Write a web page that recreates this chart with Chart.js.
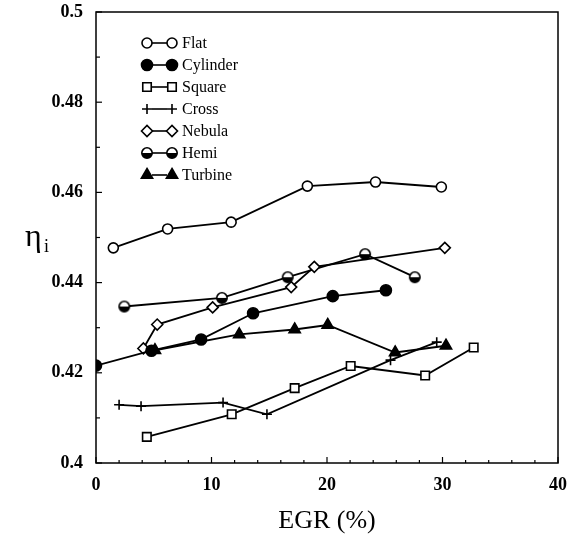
<!DOCTYPE html>
<html><head><meta charset="utf-8">
<script src="https://cdn.jsdelivr.net/npm/chart.js@4"></script>
<style>html,body{margin:0;padding:0;background:#fff}</style>
</head><body>
<canvas id="c" width="573" height="540"></canvas>
<script>
// ---- data ----
const seriesNames = ['Flat','Cylinder','Square','Cross','Nebula','Hemi','Turbine'];
const flatX = [1.5, 6.2, 11.7, 18.3, 24.2, 29.9];
const flatY = [0.4477, 0.4519, 0.4534, 0.4614, 0.4623, 0.4612];
const cylinderX = [0, 4.8, 9.1, 13.6, 20.5, 25.1];
const cylinderY = [0.4216, 0.4249, 0.4274, 0.4332, 0.4370, 0.4383];
const squareX = [4.4, 11.75, 17.2, 22.05, 28.5, 32.7];
const squareY = [0.4058, 0.4108, 0.4166, 0.4215, 0.4194, 0.4256];
const crossX = [2.0, 3.9, 11.0, 14.8, 25.5, 29.5];
const crossY = [0.4129, 0.4126, 0.4134, 0.4108, 0.4228, 0.4268];
const nebulaX = [4.1, 5.3, 10.1, 16.9, 18.9, 30.2];
const nebulaY = [0.4254, 0.4307, 0.4345, 0.4390, 0.4435, 0.4477];
const hemiX = [2.45, 10.9, 16.6, 23.3, 27.6];
const hemiY = [0.4347, 0.4366, 0.4412, 0.4463, 0.4412];
const turbineX = [5.1, 12.4, 17.2, 20.06, 25.9, 30.3];
const turbineY = [0.4250, 0.4285, 0.4296, 0.4306, 0.4245, 0.4260];
const xTickLabels = ['0','10','20','30','40'];
const yTickLabels = ['0.4','0.42','0.44','0.46','0.48','0.5'];
const xTitle = 'EGR (%)';

// ---- marker images ----
function hemiMarker(){
  const cv = document.createElement('canvas'); cv.width = 14; cv.height = 14;
  const g = cv.getContext('2d');
  g.beginPath(); g.arc(7,7,5.2,0,Math.PI*2); g.fillStyle='#fff'; g.fill();
  g.beginPath(); g.arc(7,7,5.2,0,Math.PI); g.closePath(); g.fillStyle='#000'; g.fill();
  g.beginPath(); g.arc(7,7,5.2,0,Math.PI*2); g.lineWidth=1.6; g.strokeStyle='#000'; g.stroke();
  return cv;
}
const hemiImg = hemiMarker();

function pts(xs, ys){ return xs.map((x,i)=>({x:x, y:ys[i]})); }
const styles = [
  {style:'circle', r:5, fill:'#fff'},
  {style:'circle', r:5.5, fill:'#000'},
  {style:'rect', r:6, fill:'#fff'},
  {style:'cross', r:5, fill:'#000'},
  {style:'rectRot', r:5.5, fill:'#fff'},
  {style:hemiImg, r:6, fill:'#fff'},
  {style:'triangle', r:6.5, fill:'#000'}
];
const dataX = [flatX, cylinderX, squareX, crossX, nebulaX, hemiX, turbineX];
const dataY = [flatY, cylinderY, squareY, crossY, nebulaY, hemiY, turbineY];

const datasets = seriesNames.map((n,i)=>({
  label:n, data:pts(dataX[i], dataY[i]), showLine:true, tension:0,
  borderColor:'#000', borderWidth:1.8,
  pointStyle:styles[i].style, pointRadius:styles[i].r,
  pointBackgroundColor:styles[i].fill, pointBorderColor:'#000', pointBorderWidth:1.6
}));

const SERIF = '"Liberation Serif", "Times New Roman", serif';

const deco = {
  id:'deco',
  beforeDatasetsDraw(chart){
    const ctx = chart.ctx, a = chart.chartArea;
    const xs = chart.scales.x, ys = chart.scales.y;
    ctx.save();
    ctx.strokeStyle='#000'; ctx.lineWidth=1.5;
    ctx.strokeRect(a.left, a.top, a.right-a.left, a.bottom-a.top);
    ctx.lineWidth=1.2;
    for(let k=0;k<=10;k++){
      const y = ys.getPixelForValue(0.4 + k*0.01);
      ctx.beginPath(); ctx.moveTo(a.left, y); ctx.lineTo(a.left + (k%2===0?6:4), y); ctx.stroke();
    }
    for(let k=0;k<=20;k++){
      const x = xs.getPixelForValue(k*2);
      ctx.beginPath(); ctx.moveTo(x, a.bottom); ctx.lineTo(x, a.bottom - (k%5===0?6:3)); ctx.stroke();
    }
    ctx.restore();
  },
  afterDraw(chart){
    const ctx = chart.ctx;
    ctx.save();
    ctx.fillStyle='#000';
    ctx.font = '26px ' + SERIF; ctx.textAlign='center'; ctx.textBaseline='middle';
    ctx.fillText(xTitle, 327, 521);
    ctx.font = '32px ' + SERIF; ctx.textAlign='left'; ctx.textBaseline='alphabetic';
    ctx.fillText('η', 25, 246);
    ctx.font = '18px ' + SERIF;
    ctx.fillText('i', 44, 252);
    ctx.font = '16px ' + SERIF; ctx.textBaseline='middle';
    seriesNames.forEach((n,i)=>{
      const y = 43 + i*22;
      const x1 = 147, x2 = 172;
      ctx.strokeStyle='#000'; ctx.lineWidth=1.6;
      ctx.beginPath(); ctx.moveTo(x1+5, y); ctx.lineTo(x2-5, y); ctx.stroke();
      const st = styles[i];
      [x1,x2].forEach(x=>{
        ctx.fillStyle = st.fill; ctx.strokeStyle='#000'; ctx.lineWidth=1.6;
        Chart.helpers.drawPoint(ctx, {pointStyle:st.style, radius:st.r, rotation:0, borderWidth:1.6}, x, y);
      });
      ctx.fillStyle='#000';
      ctx.fillText(n, 182, y+1);
    });
    ctx.restore();
  }
};

new Chart(document.getElementById('c'), {
  type:'scatter',
  data:{datasets:datasets},
  options:{
    responsive:false, animation:false, devicePixelRatio:1,
    layout:{padding:{left:0, right:15, top:12, bottom:0}},
    plugins:{legend:{display:false}, tooltip:{enabled:false}},
    scales:{
      x:{type:'linear', min:0, max:40,
        grid:{display:false, drawTicks:false}, border:{display:false},
        ticks:{stepSize:10, autoSkip:false, maxRotation:0, padding:12, color:'#000',
          font:{family:SERIF, size:18, weight:'bold'},
          callback:(v)=>{ const i=Math.round(v/10); return (Math.abs(v-i*10)<1e-6)? xTickLabels[i] : ''; }},
        afterFit(s){ s.height = 77; s.paddingLeft = 0; s.paddingRight = 0; }
      },
      y:{type:'linear', min:0.4, max:0.5,
        grid:{display:false, drawTicks:false}, border:{display:false},
        ticks:{stepSize:0.01, autoSkip:false, padding:13, color:'#000',
          font:{family:SERIF, size:18, weight:'bold'},
          callback:(v)=>{ const r=Math.round(v*100); if(r%2!==0) return ''; return yTickLabels[(r-40)/2]; }},
        afterFit(s){ s.width = 96; s.paddingTop = 0; s.paddingBottom = 0; }
      }
    }
  },
  plugins:[deco]
});
</script>
</body></html>
